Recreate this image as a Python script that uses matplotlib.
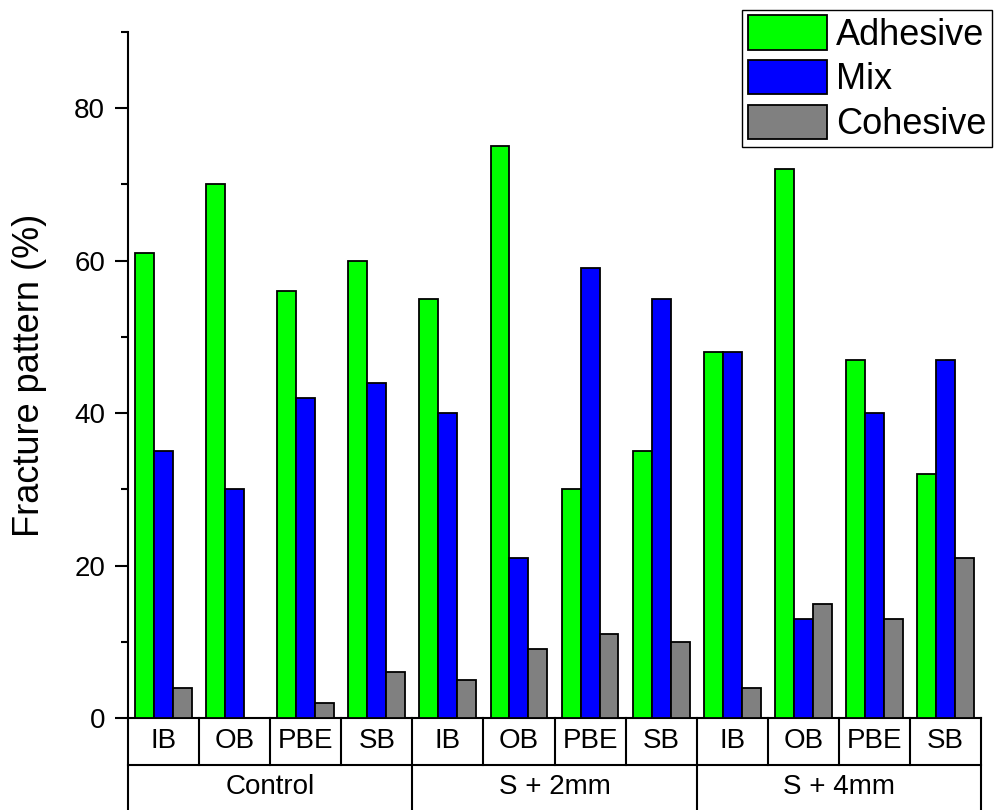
import matplotlib
matplotlib.use("Agg")
import matplotlib.pyplot as plt
import matplotlib.transforms as mtransforms
from matplotlib.ticker import MultipleLocator
import numpy as np

plt.rcParams['font.family'] = ['Liberation Sans', 'DejaVu Sans']

groups = ["Control", "S + 2mm", "S + 4mm"]
bonds = ["IB", "OB", "PBE", "SB"]
adhesive = [61, 70, 56, 60, 55, 75, 30, 35, 48, 72, 47, 32]
mix = [35, 30, 42, 44, 40, 21, 59, 55, 48, 13, 40, 47]
cohesive = [4, 0, 2, 6, 5, 9, 11, 10, 4, 15, 13, 21]

series = [("Adhesive", adhesive, "#00ff00"),
          ("Mix", mix, "#0000ff"),
          ("Cohesive", cohesive, "#808080")]

W, H = 994, 810
fig = plt.figure(figsize=(W / 100, H / 100), dpi=100)
ax = fig.add_axes([128 / W, (H - 718) / H, (981 - 128) / W, (718 - 32) / H])

n = len(groups) * len(bonds)
x = np.arange(n)
bw = 0.8 / 3
for i, (name, vals, col) in enumerate(series):
    ax.bar(x + (i - 1) * bw, vals, width=bw, color=col, edgecolor="black",
           linewidth=1.3, label=name, zorder=3)

ax.set_xlim(-0.5, n - 0.5)
ax.set_ylim(0, 90)
ax.yaxis.set_major_locator(MultipleLocator(20))
ax.yaxis.set_minor_locator(MultipleLocator(10))
ax.tick_params(axis="y", which="major", length=9.5, width=1.5, labelsize=20, pad=7)
ax.tick_params(axis="y", which="minor", length=5, width=1.5)
ax.set_xticks([])
for s in ("top", "right"):
    ax.spines[s].set_visible(False)
for s in ("left", "bottom"):
    ax.spines[s].set_linewidth(1.5)

ax.set_ylabel("Fracture pattern (%)", fontsize=26)
label_tr = mtransforms.blended_transform_factory(fig.transFigure, ax.transAxes)
ax.yaxis.set_label_coords(30 / W, 0.5, transform=label_tr)
ax.yaxis.label.set_va("center")

# category table beneath the axis
tr = ax.get_xaxis_transform()
axh = 718 - 32
r1 = -47 / axh
r2 = -120 / axh
lw = 1.5
ax.plot([-0.5, n - 0.5], [r1, r1], transform=tr, color="black", lw=lw, clip_on=False)
for k in range(n + 1):
    xe = k - 0.5
    bottom = r2 if k % len(bonds) == 0 else r1
    ax.plot([xe, xe], [0, bottom], transform=tr, color="black", lw=lw, clip_on=False)
for k in range(n):
    ax.text(k, r1 / 2, bonds[k % len(bonds)], transform=tr, ha="center",
            va="center", fontsize=20)
for g, name in enumerate(groups):
    xc = g * len(bonds) + (len(bonds) - 1) / 2
    ax.text(xc, -(787 - 718) / axh, name, transform=tr,
            ha="center", va="center", fontsize=20)

leg = ax.legend(loc="upper right", bbox_to_anchor=(992 / W, 1 - 10 / H),
                bbox_transform=fig.transFigure, fontsize=26, frameon=True,
                fancybox=False, edgecolor="black", framealpha=1,
                handlelength=2.2, handleheight=1.08, labelspacing=0.2,
                handletextpad=0.25, borderpad=0.15, borderaxespad=0)
leg.get_frame().set_linewidth(1.0)

fig.savefig("out.png", dpi=100)
